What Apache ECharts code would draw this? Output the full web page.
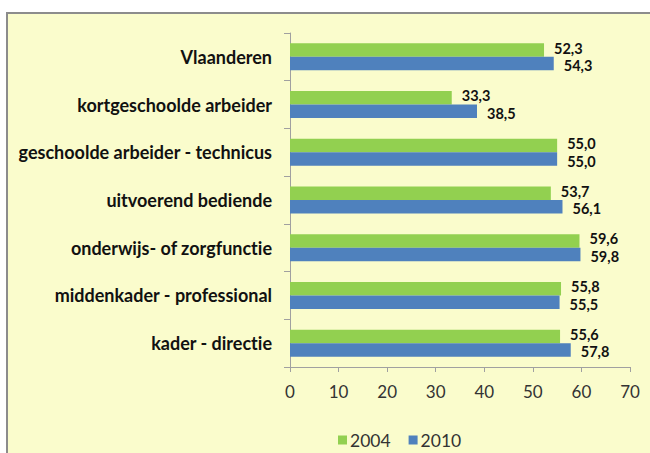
<!DOCTYPE html>
<html>
<head>
<meta charset="utf-8">
<script src="https://cdn.jsdelivr.net/npm/echarts@6/dist/echarts.min.js"></script>
<style>html,body{margin:0;padding:0;background:#fff}#c{width:650px;height:453px}#c svg text{font-variant-ligatures:none}</style>
</head>
<body>
<div id="c"></div>
<script>
const categories = ["Vlaanderen","kortgeschoolde arbeider","geschoolde arbeider - technicus","uitvoerend bediende","onderwijs- of zorgfunctie","middenkader - professional","kader - directie"];
const values2004 = [52.3,33.3,55.0,53.7,59.6,55.8,55.6];
const values2010 = [54.3,38.5,55.0,56.1,59.8,55.5,57.8];
const seriesNames = ["2004","2010"];
const xTicks = [0,10,20,30,40,50,60,70];

const chart = echarts.init(document.getElementById('c'), null, {renderer:'svg'});
const fmt = p => p.value.toFixed(1).replace('.', ',');
const mkLabel = dy => ({show:true, position:'right', distance:10, offset:[0,dy], formatter:fmt, fontFamily:'Lato', fontWeight:'bold', fontSize:14.5, lineHeight:12, color:'#111'});
chart.setOption({
  backgroundColor:'#fff',
  animation:false,
  graphic:[{type:'rect', z:-10, shape:{x:7,y:13,width:660,height:460}, style:{fill:'#fafccc', stroke:'#8c8c8c', lineWidth:2}}],
  grid:{left:290, right:20, top:33, bottom:86, containLabel:false},
  legend:{top:426, left:333, itemWidth:9, itemHeight:9, itemGap:18, icon:'rect',
    textStyle:{fontFamily:'Lato', fontSize:17.5, color:'#333', padding:[0,0,0,-2]}, data:seriesNames},
  xAxis:{type:'value', min:xTicks[0], max:xTicks[xTicks.length-1], interval:10,
    axisLine:{show:true, lineStyle:{color:'#a0a0a0'}},
    axisTick:{show:true, length:5, lineStyle:{color:'#a0a0a0'}},
    splitLine:{show:false},
    axisLabel:{fontFamily:'Lato', fontSize:17, color:'#333', margin:16}},
  yAxis:{type:'category', inverse:true, data:categories,
    axisLine:{show:true, lineStyle:{color:'#a0a0a0'}},
    axisTick:{show:true, length:6, lineStyle:{color:'#a0a0a0'}},
    axisLabel:{fontFamily:'Lato', fontWeight:'bold', fontSize:18, color:'#111', margin:18}},
  series:[
    {name:seriesNames[0], type:'bar', data:values2004, itemStyle:{color:'#92d050'}, barWidth:13.5, barGap:'0%', label:mkLabel(-2)},
    {name:seriesNames[1], type:'bar', data:values2010, itemStyle:{color:'#4f81bd'}, barWidth:13.5, barGap:'0%', label:mkLabel(2)}
  ]
});
</script>
</body>
</html>
